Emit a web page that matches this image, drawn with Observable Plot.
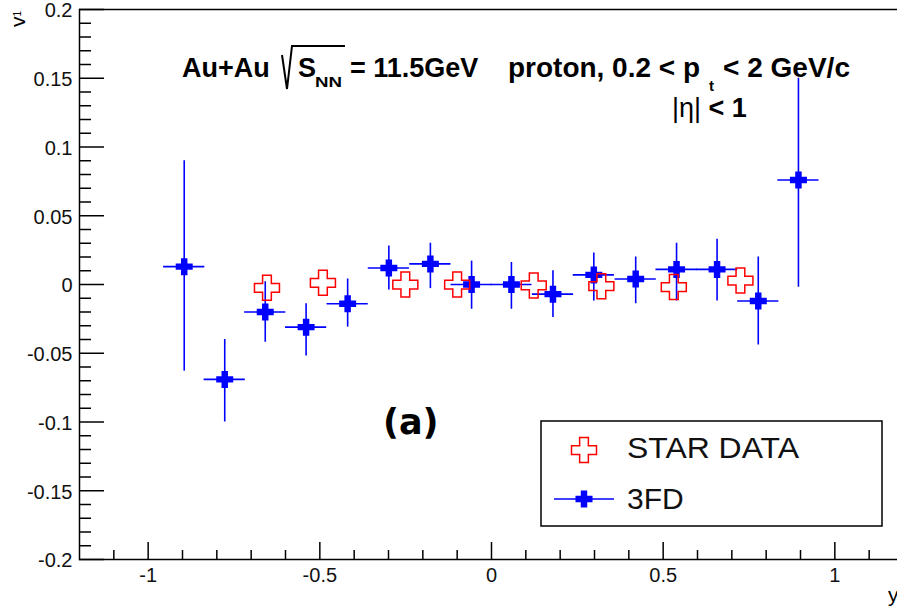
<!DOCTYPE html>
<html>
<head>
<meta charset="utf-8">
<script src="https://cdn.jsdelivr.net/npm/d3@7"></script>
<script src="https://cdn.jsdelivr.net/npm/@observablehq/plot@0.6"></script>
<style>
  html, body { margin: 0; padding: 0; background: #fff; overflow: hidden; }
  #chart svg { overflow: hidden; }
</style>
</head>
<body>
<div id="chart"></div>
<script>
// ---- data ----
// 3FD model: rapidity y, v1, lower and upper ends of error bar
const fdX  = [-0.895, -0.777, -0.659, -0.540, -0.419, -0.299, -0.178, -0.058, 0.058, 0.179, 0.298, 0.420, 0.539, 0.657, 0.777, 0.894];
const fdV  = [ 0.013, -0.069, -0.020, -0.031, -0.014,  0.012,  0.015,  0.000, 0.000, -0.007, 0.007, 0.004, 0.011, 0.011, -0.012, 0.076];
const fdLo = [-0.063, -0.100, -0.042, -0.052, -0.031, -0.004, -0.003, -0.018, -0.018, -0.024, -0.012, -0.014, -0.012, -0.012, -0.044, -0.002];
const fdHi = [ 0.090, -0.040,  0.002, -0.014,  0.004,  0.028,  0.030,  0.017, 0.016, 0.010, 0.023, 0.020, 0.030, 0.033, 0.020, 0.150];
const fdXErr = 0.06;
// STAR data
const starX = [-0.654, -0.491, -0.251, -0.100, 0.123, 0.320, 0.531, 0.725];
const starV = [-0.0024, 0.0012, 0.000, 0.000, -0.0007, -0.0012, -0.0019, 0.0029];
// axes
const xDomain = [-1.2, 1.2];
const yDomain = [-0.2, 0.2];
const xMajor = [-1, -0.5, 0, 0.5, 1];
const xMinor = [-1.1, -0.9, -0.8, -0.7, -0.6, -0.4, -0.3, -0.2, -0.1, 0.1, 0.2, 0.3, 0.4, 0.6, 0.7, 0.8, 0.9, 1.1];
const yMajor = [-0.2, -0.15, -0.1, -0.05, 0, 0.05, 0.1, 0.15, 0.2];
const yMinor = d3.range(-19, 20).filter(k => k % 5 !== 0).map(k => k / 100);
const seriesNames = ["STAR DATA", "3FD"];

const fd = fdX.map((x, i) => ({x, v: fdV[i], lo: fdLo[i], hi: fdHi[i]}));
const star = starX.map((x, i) => ({x, v: starV[i]}));

// ---- layout ----
const W = 897, H = 611;
const mL = 79, mR = -6, mT = 9, mB = 52;
const plotW = W - mL - mR, plotH = H - mT - mB;
const FONT = "'Liberation Sans', Arial, Helvetica, sans-serif";
const BLUE = "#0000ff", RED = "#ff0000";

function crossSymbol(ratio) {
  return {
    draw(ctx, size) {
      const r = Math.sqrt(size / Math.PI), a = r * ratio;
      ctx.moveTo(-a, -r); ctx.lineTo(a, -r); ctx.lineTo(a, -a); ctx.lineTo(r, -a);
      ctx.lineTo(r, a); ctx.lineTo(a, a); ctx.lineTo(a, r); ctx.lineTo(-a, r);
      ctx.lineTo(-a, a); ctx.lineTo(-r, a); ctx.lineTo(-r, -a); ctx.lineTo(-a, -a);
      ctx.closePath();
    }
  };
}
const openCross = crossSymbol(0.35);
const fullCross = crossSymbol(0.38);
const fmt = d => String(+d.toFixed(2));

const chart = Plot.plot({
  width: W, height: H,
  marginLeft: mL, marginRight: mR, marginTop: mT, marginBottom: mB,
  x: {domain: xDomain},
  y: {domain: yDomain},
  style: {fontFamily: FONT, fontSize: "20px", background: "#fff", color: "#111"},
  marks: [
    Plot.frame({stroke: "#000", strokeWidth: 1.5}),
    Plot.tickX(xMajor, {x: d => d, insetTop: plotH - 17, stroke: "#000", strokeWidth: 1.5}),
    Plot.tickX(xMinor, {x: d => d, insetTop: plotH - 9, stroke: "#000", strokeWidth: 1.5}),
    Plot.tickY(yMajor, {y: d => d, insetRight: plotW - 25, stroke: "#000", strokeWidth: 1.5}),
    Plot.tickY(yMinor, {y: d => d, insetRight: plotW - 12, stroke: "#000", strokeWidth: 1.5}),
    Plot.axisX({ticks: xMajor, tickSize: 0, tickPadding: 8, tickFormat: fmt, fontSize: 20, label: null}),
    Plot.axisY({ticks: yMajor, tickSize: 0, tickPadding: 7, tickFormat: fmt, fontSize: 20, label: null, dy: 1.5}),
    Plot.ruleX(fd, {x: "x", y1: "lo", y2: "hi", stroke: BLUE, strokeWidth: 1.6}),
    Plot.ruleY(fd, {y: "v", x1: d => d.x - fdXErr, x2: d => d.x + fdXErr, stroke: BLUE, strokeWidth: 1.6}),
    Plot.dot(fd, {x: "x", y: "v", symbol: fullCross, r: 8.5, fill: BLUE, stroke: "none"}),
    Plot.dot(star, {x: "x", y: "v", symbol: openCross, r: 12.5, fill: "none", stroke: RED, strokeWidth: 1.5})
  ]
});
document.getElementById("chart").appendChild(chart);

// ---- annotations, axis titles and legend ----
const svg = d3.select(chart);
const ann = svg.append("g").attr("font-family", FONT).attr("fill", "#000").attr("text-anchor", "start");
function txt(x, y, s, size, weight) {
  return ann.append("text").attr("x", x).attr("y", y).attr("font-size", size)
    .attr("font-weight", weight || "normal").text(s);
}
// axis titles
const v1 = ann.append("text").attr("transform", "translate(25,27) rotate(-90)").attr("font-size", 21);
v1.append("tspan").text("v");
v1.append("tspan").attr("font-size", 10).attr("dy", -4).text("1");
txt(888, 602, "y", 21);

// title
txt(182, 77, "Au+Au", 27, "bold");
ann.append("path").attr("d", "M282,55 L287,89 L292,46 L345,46").attr("fill", "none").attr("stroke", "#000").attr("stroke-width", 2);
txt(298, 77, "S", 27, "bold");
txt(315, 87, "NN", 14, "bold").attr("textLength", 27).attr("lengthAdjust", "spacingAndGlyphs");
txt(350, 77, "= 11.5GeV", 27, "bold");
txt(508, 77, "proton, 0.2 < p", 27, "bold").attr("textLength", 192).attr("lengthAdjust", "spacingAndGlyphs");
txt(709, 91, "t", 15, "bold");
txt(723, 77, "< 2 GeV/c", 27, "bold").attr("textLength", 127).attr("lengthAdjust", "spacingAndGlyphs");
const eta = ann.append("text").attr("x", 672).attr("y", 117).attr("font-size", 27);
eta.append("tspan").text("|η|");
eta.append("tspan").attr("font-weight", "bold").text(" < 1");

// panel label
ann.append("text").attr("x", 383).attr("y", 434).attr("font-size", 35)
  .attr("font-family", "'DejaVu Sans', sans-serif").attr("font-weight", "bold").text("(a)");

// legend
const leg = svg.append("g").attr("font-family", FONT).attr("text-anchor", "start");
leg.append("rect").attr("x", 541).attr("y", 421).attr("width", 341).attr("height", 105)
  .attr("fill", "#fff").attr("stroke", "#000").attr("stroke-width", 1.5);
function symPath(sym, r) { const p = d3.path(); sym.draw(p, r * r * Math.PI); return p.toString(); }
leg.append("path").attr("transform", "translate(584,450)").attr("d", symPath(openCross, 12.5))
  .attr("fill", "none").attr("stroke", RED).attr("stroke-width", 1.5);
leg.append("text").attr("x", 627).attr("y", 458).attr("font-size", 30)
  .attr("textLength", 172).attr("lengthAdjust", "spacingAndGlyphs").text(seriesNames[0]);
leg.append("line").attr("x1", 554).attr("x2", 614).attr("y1", 499).attr("y2", 499)
  .attr("stroke", BLUE).attr("stroke-width", 1.6);
leg.append("path").attr("transform", "translate(584,499)").attr("d", symPath(fullCross, 8.5)).attr("fill", BLUE);
leg.append("text").attr("x", 627).attr("y", 509).attr("font-size", 30).text(seriesNames[1]);
</script>
</body>
</html>
